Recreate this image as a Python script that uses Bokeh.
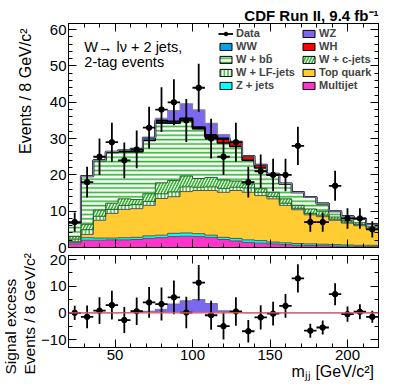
import numpy as np
from bokeh.plotting import figure
from bokeh.models import (ColumnDataSource, Range1d, LinearAxis, SingleIntervalTicker,
                          Label, Legend, LegendItem, Span, CustomJSTickFormatter, Title)
from bokeh.layouts import column
from bokeh.embed import file_html
from bokeh.resources import INLINE

# ---------------- data ----------------
mjj_edges = [20, 28, 36, 44, 52, 60, 68, 76, 84, 92, 100, 108, 116, 124,
             132, 140, 148, 156, 164, 172, 180, 188, 196, 204, 212, 220]
mjj_centers = [24, 32, 40, 48, 56, 64, 72, 80, 88, 96, 104, 112, 120,
               128, 136, 144, 152, 160, 168, 176, 184, 192, 200, 208, 216]

multijet = [1.0, 2.0, 2.0, 2.1, 2.1, 2.2, 2.5, 2.7, 3.0, 3.1, 3.0, 2.8, 2.2,
            1.8, 1.4, 1.2, 1.0, 0.8, 0.6, 0.55, 0.5, 0.4, 0.35, 0.3, 0.3]
z_jets = [0.4, 0.7, 0.6, 0.5, 0.6, 0.6, 0.7, 0.7, 0.9, 0.9, 0.8, 0.6, 0.6,
          0.7, 0.7, 0.7, 0.5, 0.5, 0.5, 0.45, 0.4, 0.4, 0.35, 0.3, 0.3]
top_quark = [0.3, 0.9, 4.9, 6.8, 7.8, 7.9, 8.4, 10.1, 10.1, 11.4, 11.9, 12.3, 12.4,
             13.2, 13.1, 12.4, 11.9, 10.3, 9.3, 8.0, 7.6, 6.7, 6.0, 5.4, 4.4]
w_lf = [0.6, 1.3, 1.1, 1.1, 1.1, 1.1, 1.1, 1.3, 1.3, 1.3, 0.9, 1.0, 1.1,
        0.9, 1.2, 0.9, 0.6, 0.6, 0.4, 0.4, 0.4, 0.3, 0.3, 0.3, 0.3]
w_c = [0.7, 1.5, 1.7, 1.7, 1.8, 1.4, 2.1, 3.0, 3.2, 3.0, 2.4, 2.6, 2.3,
       1.7, 1.1, 1.0, 1.2, 1.2, 0.8, 1.2, 1.1, 0.6, 0.4, 0.5, 0.4]
w_bb = [3.8, 13.2, 13.7, 14.0, 13.0, 13.2, 14.7, 16.5, 15.7, 15.3, 13.7, 11.1, 10.2,
        9.5, 6.5, 5.7, 4.7, 4.1, 3.6, 3.3, 2.1, 1.6, 1.2, 1.1, 0.7]
wh = [0, 0, 0, 0, 0, 0, 0, 0, 0, 0, 0, 0.3, 1.0,
      1.2, 1.2, 0.9, 0.4, 0.1, 0, 0, 0, 0, 0, 0, 0]
ww = [0, 0, 0, 0.2, 0.4, 0.8, 0.7, 0.6, 0.5, 0.5, 0.4, 0.3, 0.2,
      0.1, 0, 0, 0, 0, 0, 0, 0, 0, 0, 0, 0]
wz = [0, 0, 0, 0, 0, 0, 0, 0.7, 3.0, 4.1, 4.8, 3.2, 1.1,
      0.1, 0, 0, 0, 0, 0, 0, 0, 0, 0, 0, 0]

data_counts = [7, 18, 25, 29, 24, 27, 33, 38, 40, 35, 44, 30, 25,
               29, 18, 21, 20, 20, 28, 7, 7, 17, 8, 8, 5]

signal_excess = [0.0, -1.5, 0.8, 2.9, -2.7, 0.6, 3.9, 3.3, 5.8, 0.1, 11.3, -0.9, -5.0,
                 0.5, -6.9, -1.7, -0.3, 2.6, 12.9, -6.7, -5.5, 7.0, -0.5, 0.4, -1.5]
signal_expected = [0, 0, 0, 0, 0.1, 0.3, 0.6, 1.3, 3.3, 4.5, 5.0, 3.5, 0.75,
                   0.2, 0, 0, 0, 0, 0, 0, 0, 0, 0, 0, 0]

x_tick_step = 50
y_top_range = (0, 61.7)
y_bot_range = (-13, 21.5)

# ---------------- page geometry (px) ----------------
FONT = "Liberation Sans"
GREEN = "#2DB32D"
PAGE_W, PAGE_H = 407, 391
FL, FR = 65, 378                 # frame left/right (page px)
T1, B1 = 23, 247                 # top panel frame
P1_BOT = 253
T2, B2 = 255, 347                # bottom panel frame


def px_x(px):
    return mjj_edges[0] + (px - FL) * (mjj_edges[-1] - mjj_edges[0]) / (FR - FL)


def p1_y(py):
    return y_top_range[0] + (B1 - py) * (y_top_range[1] - y_top_range[0]) / (B1 - T1)


def steps(vals):
    v = list(vals)
    return v + [v[-1]]


blank_fmt = CustomJSTickFormatter(code="return ''")


def style_axis(ax, labels, size="15px"):
    ax.major_tick_in = 8
    ax.major_tick_out = 0
    ax.minor_tick_in = 4
    ax.minor_tick_out = 0
    ax.axis_line_color = "black"
    ax.major_tick_line_color = "black"
    ax.minor_tick_line_color = "black"
    ax.major_label_text_font = FONT
    ax.major_label_text_color = "black"
    if labels:
        ax.major_label_text_font_size = size
        ax.major_label_standoff = 2
    else:
        ax.formatter = blank_fmt
        ax.major_label_text_font_size = "1px"
        ax.major_label_standoff = 0


def make_fig(height, yr, top_border, bottom_border, xr=None):
    p = figure(width=PAGE_W, height=height,
               x_range=xr if xr is not None else Range1d(mjj_edges[0], mjj_edges[-1]),
               y_range=Range1d(*yr), output_backend="svg", toolbar_location=None,
               min_border_left=FL, min_border_right=PAGE_W - FR,
               min_border_top=top_border, min_border_bottom=bottom_border)
    p.xgrid.visible = False
    p.ygrid.visible = False
    p.outline_line_color = "black"
    p.outline_line_width = 1
    p.background_fill_color = "white"
    p.border_fill_color = "white"
    p.title.text = ""
    p.title.standoff = 0
    return p


def add_mirror_axes(p, xstep, ystep, yminor):
    ax = LinearAxis(ticker=SingleIntervalTicker(interval=xstep, num_minor_ticks=5))
    style_axis(ax, labels=False)
    p.add_layout(ax, "above")
    ax = LinearAxis(ticker=SingleIntervalTicker(interval=ystep, num_minor_ticks=yminor))
    style_axis(ax, labels=False)
    p.add_layout(ax, "right")


def side_title(text, size="16px", **kw):
    return Title(text=text, text_font=FONT, text_font_size=size, text_font_style="normal",
                 text_color="black", **kw)


txt = dict(text_font=FONT, text_color="black", text_baseline="alphabetic")

# ================= top panel =================
p1 = make_fig(P1_BOT, y_top_range, T1, P1_BOT - B1)
p1.title.text = "CDF Run II, 9.4 fb\u207b\u00b9"
p1.title.align = "right"
p1.title.offset = 0
p1.title.standoff = 0
p1.title.vertical_align = "bottom"
p1.title.text_font = FONT
p1.title.text_font_size = "15px"
p1.title.text_font_style = "bold"
p1.title.text_color = "black"

p1.xaxis.ticker = SingleIntervalTicker(interval=x_tick_step, num_minor_ticks=5)
p1.yaxis.ticker = SingleIntervalTicker(interval=10, num_minor_ticks=5)
style_axis(p1.xaxis[0], labels=False)
style_axis(p1.yaxis[0], labels=True)
add_mirror_axes(p1, x_tick_step, 10, 5)
p1.add_layout(side_title("Events / 8 GeV/c\u00b2", align="right", offset=5,
                         vertical_align="middle", standoff=24), "left")

layers = [
    ("Multijet", multijet, dict(fill_color="#FF33CC"), "#555555", 1.0),
    ("Z + jets", z_jets, dict(fill_color="#00FFFF"), "#555555", 1.0),
    ("Top quark", top_quark, dict(fill_color="#FFCC33"), "#555555", 1.0),
    ("W + LF-jets", w_lf, dict(fill_color="white", hatch_pattern="|", hatch_color=GREEN,
                               hatch_scale=3.6, hatch_weight=1.4), "#1E5E1E", 1.0),
    ("W + c-jets", w_c, dict(fill_color="white", hatch_pattern="/", hatch_color=GREEN,
                             hatch_scale=6, hatch_weight=1.6), "#1E5E1E", 1.0),
    ("W + b" + "b\u0304", w_bb, dict(fill_color="white", hatch_pattern="-", hatch_color=GREEN,
                                     hatch_scale=4.4, hatch_weight=1.6), "black", 1.5),
    ("WH", wh, dict(fill_color="#FF0000"), "black", 1.0),
    ("WW", ww, dict(fill_color="#0AA0E6"), "black", 2.0),
    ("WZ", wz, dict(fill_color="#7B68EE"), "#8080A8", 1.2),
]

nan1 = [float("nan")]
bottom = np.zeros(len(mjj_centers))
legend_boxes = {}
outline_draw = []
for name, vals, fill, lc, lw in layers:
    top = bottom + np.array(vals, dtype=float)
    p1.varea_step(x=mjj_edges, y1=steps(bottom), y2=steps(top), step_mode="after", **fill)
    outline_draw.append((steps(top), lc, lw))
    # legend-only proxy (NaN geometry, nothing drawn in the plot)
    legend_boxes[name] = p1.quad(left=nan1, right=nan1, bottom=nan1, top=nan1,
                                 line_color="black", line_width=1, **fill)
    bottom = top

for ys, lc, lw in outline_draw:
    p1.step(x=mjj_edges, y=ys, mode="after", line_color=lc, line_width=lw)

cnt = np.array(data_counts, dtype=float)
err = np.sqrt(cnt)
src1 = ColumnDataSource(dict(x=mjj_centers, y=cnt, lo=cnt - err, hi=cnt + err,
                             xl=mjj_edges[:-1], xr=mjj_edges[1:]))
p1.segment(x0="x", y0="lo", x1="x", y1="hi", source=src1, line_color="black", line_width=1.8)
hbar1 = p1.segment(x0="xl", y0="y", x1="xr", y1="y", source=src1, line_color="black", line_width=1.8)
dots1 = p1.scatter("x", "y", source=src1, size=5.5, color="black")

leg_kw = dict(label_text_font=FONT, label_text_font_size="11px", label_text_font_style="bold",
              glyph_width=15, glyph_height=9, label_height=9, label_standoff=3, spacing=1,
              padding=0, margin=0, border_line_color=None, background_fill_alpha=0)
col1 = [LegendItem(label="Data", renderers=[hbar1, dots1])] + \
       [LegendItem(label=n, renderers=[legend_boxes[n]]) for n in
        ["WW", "W + b" + "b\u0304", "W + LF-jets", "Z + jets"]]
col2 = [LegendItem(label=n, renderers=[legend_boxes[n]]) for n in
        ["WZ", "WH", "W + c-jets", "Top quark", "Multijet"]]
LEG_BOTTOM = 91   # page y of legend bottom
p1.add_layout(Legend(items=col1, location=(215 - FL, B1 - LEG_BOTTOM), **leg_kw))
p1.add_layout(Legend(items=col2, location=(298 - FL, B1 - LEG_BOTTOM), **leg_kw))

p1.add_layout(Label(x=px_x(81), y=p1_y(46), text="W\u2192 l\u03bd + 2 jets,", text_font_size="14.5px", **txt))
p1.add_layout(Label(x=px_x(81), y=p1_y(61), text="2-tag events", text_font_size="14.5px", **txt))

# ================= bottom panel =================
p2 = make_fig(PAGE_H - P1_BOT, y_bot_range, T2 - P1_BOT, PAGE_H - B2, xr=p1.x_range)
p2.xaxis.ticker = SingleIntervalTicker(interval=x_tick_step, num_minor_ticks=5)
p2.yaxis.ticker = SingleIntervalTicker(interval=10, num_minor_ticks=2)
style_axis(p2.xaxis[0], labels=True)
p2.xaxis[0].major_label_standoff = 2
style_axis(p2.yaxis[0], labels=True)
add_mirror_axes(p2, x_tick_step, 10, 2)
p2.add_layout(side_title("Events / 8 GeV/c\u00b2", size="15.5px", align="left", offset=-27,
                         vertical_align="middle", standoff=0), "left")
p2.add_layout(side_title("Signal excess", size="15.5px", align="left", offset=-27,
                         vertical_align="middle", standoff=0), "left")
p2.add_layout(side_title("m\u2c7c\u2c7c  [GeV/c\u00b2]", align="right", offset=0,
                         vertical_align="top", standoff=0), "below")

zeros = [0.0] * len(mjj_edges)
p2.varea_step(x=mjj_edges, y1=zeros, y2=steps(signal_expected), step_mode="after",
              fill_color="#7B68EE")
p2.step(x=mjj_edges, y=steps(signal_expected), mode="after", line_color="#7070A0", line_width=1)
p2.add_layout(Span(location=0, dimension="width", line_color="#E06060", line_width=1.2))

ex = np.array(signal_excess, dtype=float)
src2 = ColumnDataSource(dict(x=mjj_centers, y=ex, lo=ex - err, hi=ex + err,
                             xl=mjj_edges[:-1], xr=mjj_edges[1:]))
p2.segment(x0="x", y0="lo", x1="x", y1="hi", source=src2, line_color="black", line_width=1.8)
p2.segment(x0="xl", y0="y", x1="xr", y1="y", source=src2, line_color="black", line_width=1.8)
p2.scatter("x", "y", source=src2, size=5.5, color="black")

layout = column(p1, p2, spacing=0)
open("out.html", "w").write(file_html(layout, INLINE))
